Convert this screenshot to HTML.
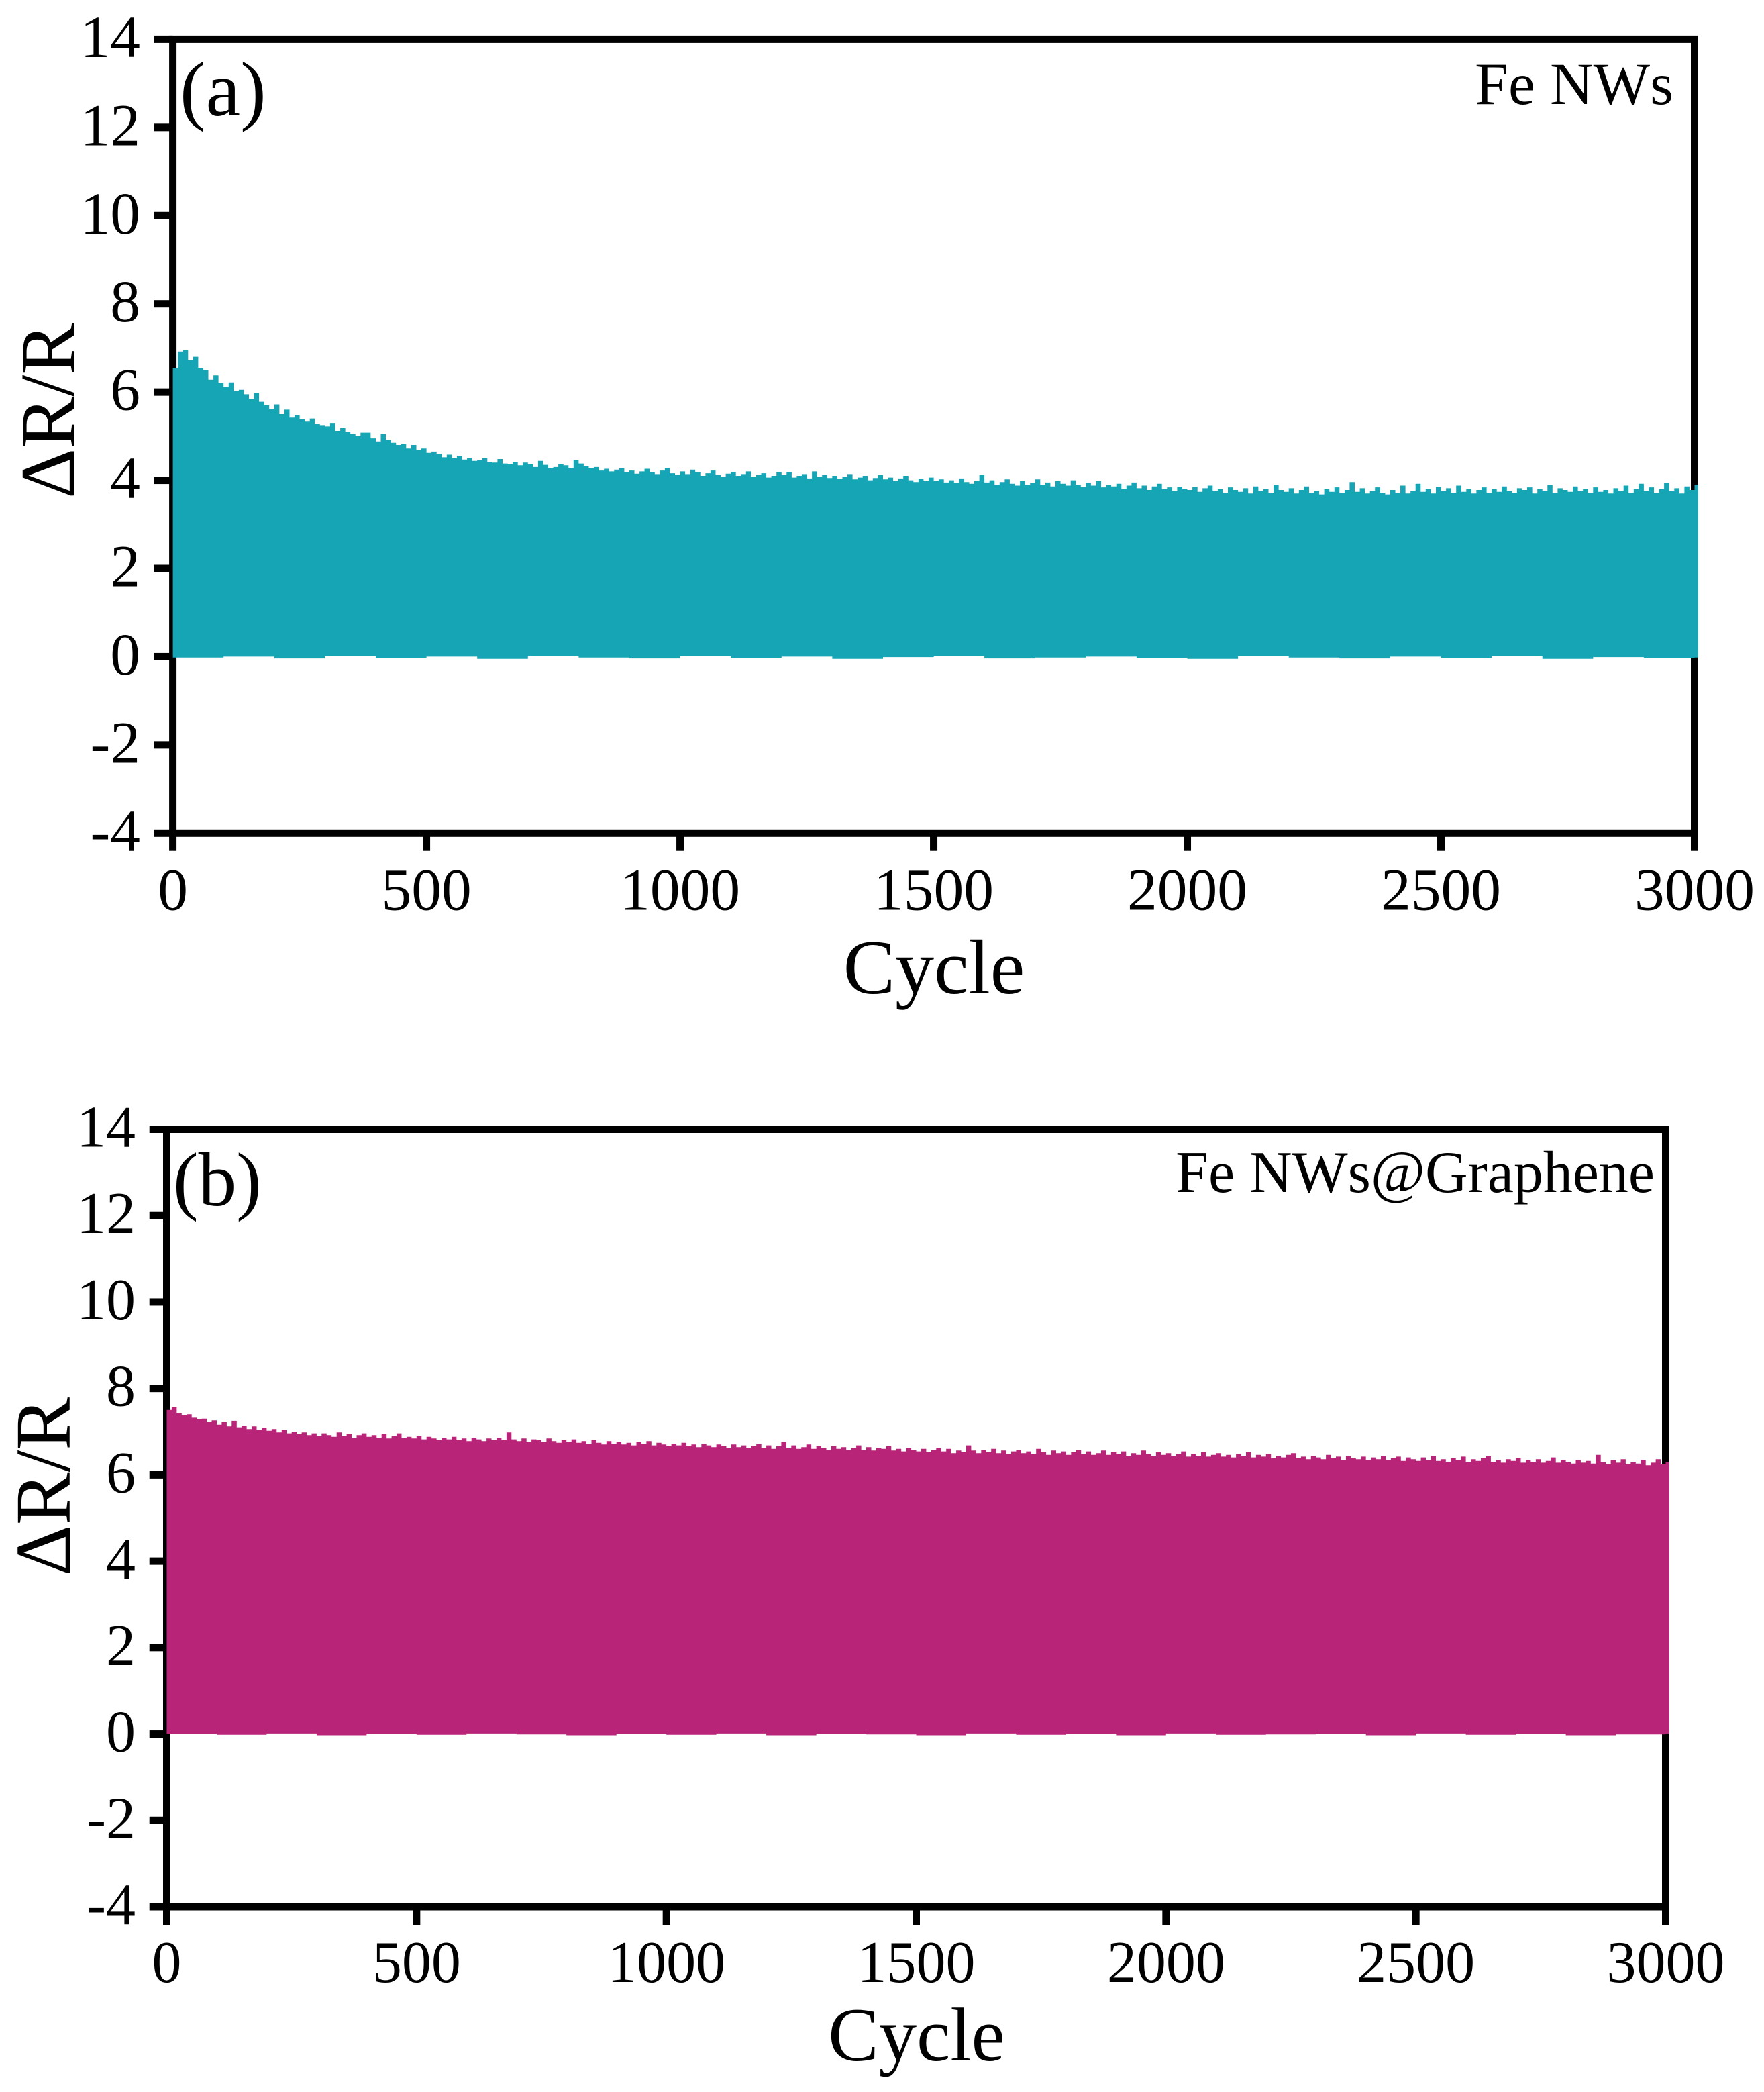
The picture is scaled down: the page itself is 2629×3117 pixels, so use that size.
<!DOCTYPE html>
<html lang="en">
<head>
<meta charset="utf-8">
<title>Fe NWs cycling response</title>
<style>
html,body{margin:0;padding:0;background:#fff;}
svg{display:block;}
text{font-family:"Liberation Serif","Times New Roman",serif;fill:#000;}
</style>
</head>
<body>
<svg id="figure" xmlns="http://www.w3.org/2000/svg" width="2629" height="3117" viewBox="0 0 2629 3117"></svg>
<script>
const xTickValues = [0, 500, 1000, 1500, 2000, 2500, 3000];
const yTickValues = [-4, -2, 0, 2, 4, 6, 8, 10, 12, 14];
const topSampleStep = 10;
const lowSampleStep = 100;
const lastSampleSpan = 7;

const feTops = [
6.55,6.92,6.95,6.72,6.80,6.55,6.50,6.28,6.38,6.20,
6.12,6.22,6.02,6.05,5.95,5.85,5.98,5.78,5.70,5.62,
5.72,5.50,5.60,5.42,5.48,5.38,5.33,5.40,5.28,5.25,
5.22,5.30,5.12,5.18,5.10,5.05,5.00,5.08,5.08,4.95,
4.88,5.05,4.92,4.85,4.80,4.82,4.72,4.80,4.68,4.72,
4.62,4.65,4.60,4.52,4.58,4.50,4.55,4.47,4.50,4.44,
4.46,4.50,4.42,4.40,4.48,4.38,4.36,4.42,4.34,4.40,
4.36,4.30,4.44,4.35,4.28,4.30,4.36,4.34,4.28,4.45,
4.38,4.32,4.28,4.30,4.22,4.26,4.20,4.24,4.28,4.18,
4.22,4.15,4.20,4.26,4.18,4.14,4.22,4.28,4.16,4.12,
4.20,4.14,4.24,4.18,4.10,4.16,4.22,4.12,4.08,4.15,
4.18,4.10,4.14,4.20,4.08,4.12,4.16,4.06,4.10,4.18,
4.12,4.18,4.06,4.10,4.14,4.04,4.20,4.08,4.12,4.05,
4.10,4.03,4.08,4.14,4.02,4.06,4.10,4.00,4.05,4.12,
4.02,4.06,3.98,4.04,4.10,4.00,3.96,4.03,3.98,4.06,
3.98,4.02,3.95,4.00,3.94,4.04,3.96,3.92,3.98,4.12,
3.95,4.00,3.90,3.96,4.02,3.92,3.88,3.98,3.90,3.94,
4.02,3.90,3.95,3.86,3.98,3.92,3.88,4.00,3.90,3.85,
3.94,3.88,3.98,3.84,3.90,3.86,3.92,3.80,3.88,3.95,
3.82,3.88,3.78,3.86,3.92,3.80,3.84,3.76,3.85,3.80,
3.78,3.85,3.74,3.82,3.88,3.76,3.80,3.72,3.84,3.78,
3.74,3.82,3.70,3.86,3.76,3.80,3.72,3.90,3.78,3.74,
3.82,3.70,3.78,3.86,3.72,3.76,3.68,3.80,3.74,3.84,
3.72,3.78,3.96,3.74,3.82,3.70,3.76,3.84,3.72,3.68,
3.78,3.72,3.88,3.70,3.76,3.92,3.74,3.80,3.70,3.85,
3.76,3.82,3.72,3.88,3.74,3.80,3.70,3.78,3.84,3.72,
3.80,3.74,3.86,3.76,3.72,3.82,3.78,3.84,3.70,3.80,
3.76,3.90,3.72,3.82,3.78,3.74,3.86,3.76,3.80,3.72,
3.84,3.74,3.78,3.70,3.82,3.76,3.88,3.72,3.80,3.92,
3.76,3.84,3.72,3.80,3.94,3.76,3.82,3.70,3.86,3.78,
3.90];

const feLows = [
-0.02,0.00,-0.04,0.01,-0.03,0.00,-0.05,0.02,-0.02,-0.04,
0.01,-0.03,0.00,-0.05,-0.01,0.01,-0.04,-0.02,0.00,-0.03,
-0.05,0.01,-0.02,-0.04,0.00,-0.03,0.01,-0.05,-0.01,-0.03,-0.02];

const grapheneTops = [
7.50,7.56,7.42,7.38,7.40,7.32,7.28,7.30,7.22,7.26,
7.16,7.22,7.12,7.25,7.10,7.14,7.06,7.12,7.04,7.08,
7.02,7.06,6.98,7.04,6.96,7.00,6.94,6.98,6.92,6.96,
6.90,6.96,6.92,6.88,6.98,6.90,6.94,6.86,6.92,6.96,
6.88,6.92,6.86,6.94,6.84,6.90,6.96,6.86,6.88,6.84,
6.90,6.82,6.88,6.84,6.80,6.86,6.82,6.88,6.80,6.84,
6.78,6.86,6.82,6.78,6.84,6.80,6.86,6.80,6.98,6.82,
6.78,6.84,6.76,6.82,6.80,6.76,6.84,6.78,6.74,6.80,
6.76,6.82,6.74,6.78,6.72,6.80,6.74,6.70,6.78,6.72,
6.76,6.70,6.74,6.68,6.76,6.72,6.78,6.68,6.74,6.70,
6.66,6.72,6.68,6.74,6.66,6.70,6.64,6.72,6.68,6.64,
6.70,6.66,6.62,6.70,6.64,6.68,6.62,6.66,6.72,6.62,
6.68,6.60,6.66,6.76,6.62,6.68,6.60,6.64,6.70,6.60,
6.66,6.62,6.58,6.66,6.60,6.64,6.58,6.62,6.68,6.58,
6.64,6.56,6.62,6.60,6.66,6.56,6.60,6.54,6.62,6.58,
6.54,6.60,6.52,6.58,6.62,6.54,6.60,6.50,6.56,6.52,
6.68,6.56,6.50,6.58,6.52,6.60,6.50,6.56,6.48,6.54,
6.58,6.50,6.54,6.48,6.60,6.52,6.46,6.56,6.50,6.54,
6.46,6.52,6.58,6.48,6.54,6.46,6.50,6.56,6.46,6.52,
6.48,6.54,6.44,6.50,6.46,6.56,6.48,6.44,6.52,6.46,
6.50,6.44,6.48,6.54,6.42,6.48,6.44,6.52,6.42,6.46,
6.50,6.42,6.46,6.40,6.48,6.44,6.52,6.40,6.46,6.42,
6.48,6.38,6.44,6.40,6.46,6.50,6.38,6.42,6.36,6.44,
6.40,6.36,6.46,6.38,6.42,6.34,6.44,6.38,6.36,6.42,
6.34,6.40,6.36,6.44,6.34,6.38,6.42,6.32,6.40,6.36,
6.32,6.40,6.34,6.44,6.32,6.36,6.30,6.38,6.34,6.42,
6.30,6.36,6.32,6.38,6.44,6.30,6.34,6.28,6.36,6.32,
6.38,6.28,6.34,6.30,6.36,6.28,6.32,6.40,6.28,6.34,
6.30,6.26,6.34,6.28,6.32,6.26,6.46,6.30,6.24,6.34,
6.28,6.36,6.24,6.30,6.26,6.34,6.22,6.28,6.36,6.24,
6.30];

const grapheneLows = [
0.00,-0.02,0.01,-0.03,0.00,-0.02,0.01,-0.01,-0.03,0.00,
-0.02,0.01,-0.03,0.00,-0.01,-0.03,0.01,-0.02,0.00,-0.03,
0.01,-0.02,-0.01,0.00,-0.03,0.01,-0.02,0.00,-0.03,-0.01,0.00];

const svgNS = 'http://www.w3.org/2000/svg';
const figure = document.getElementById('figure');

function makeLinearScale(d0, d1, r0, r1) {
  return function (v) { return r0 + (v - d0) * (r1 - r0) / (d1 - d0); };
}

function addNode(parent, tag, props) {
  const el = document.createElementNS(svgNS, tag);
  for (const key in props) el.setAttribute(key, props[key]);
  parent.appendChild(el);
  return el;
}

function addLabel(parent, str, props) {
  const el = addNode(parent, 'text', props);
  el.textContent = str;
  return el;
}

function drawPanel(cfg, tops, lows) {
  const group = addNode(figure, 'g', {});
  
  

  const x = makeLinearScale(0, 3000, cfg.left, cfg.right);
  const y = makeLinearScale(-4, 14, cfg.bottom, cfg.top);
  const sw = cfg.spine;

  const frame = addNode(group, 'rect', {x: cfg.left, y: cfg.top, width: cfg.right - cfg.left, height: cfg.bottom - cfg.top, fill: 'none', stroke: '#000', 'stroke-width': sw});
  
  

  yTickValues.forEach(function (v) {
    const tick = addNode(group, 'rect', {x: cfg.tickLeft, y: y(v) - sw / 2, width: cfg.left - cfg.tickLeft, height: sw, fill: '#000'});
    
    
    const label = addLabel(group, String(v), {x: cfg.yLabelRight, y: y(v) + cfg.yLabelDrop, 'font-size': cfg.tickFont, 'text-anchor': 'end'});
    
    
  });

  xTickValues.forEach(function (v) {
    const tick = addNode(group, 'rect', {x: x(v) - sw / 2, y: cfg.bottom, width: sw, height: cfg.tickBottom - cfg.bottom, fill: '#000'});
    
    
    const label = addLabel(group, String(v), {x: x(v), y: cfg.xLabelBase, 'font-size': cfg.tickFont, 'text-anchor': 'middle'});
    
    
  });

  let d = '';
  tops.forEach(function (v, i) {
    const c = i * topSampleStep;
    const span = i === tops.length - 1 ? lastSampleSpan : topSampleStep;
    d += (i === 0 ? 'M' : 'L') + x(c).toFixed(1) + ' ' + y(v).toFixed(1);
    d += 'L' + x(c + span).toFixed(1) + ' ' + y(v).toFixed(1);
  });
  for (let i = lows.length - 1; i >= 0; i--) {
    const c = i * lowSampleStep;
    const edge = i === lows.length - 1 ? c + lastSampleSpan : c + lowSampleStep;
    d += 'L' + x(edge).toFixed(1) + ' ' + y(lows[i]).toFixed(1);
    d += 'L' + x(c).toFixed(1) + ' ' + y(lows[i]).toFixed(1);
  }
  d += 'Z';
  const area = addNode(group, 'path', {d: d, fill: cfg.color});
  
  

  const yTitle = addLabel(group, '\u0394R/R', {transform: 'translate(' + cfg.yTitleX + ' ' + cfg.yTitleY + ') rotate(-90)', 'font-size': cfg.yTitleFont, 'text-anchor': 'middle'});
  
  

  const xTitle = addLabel(group, 'Cycle', {x: cfg.xTitleX, y: cfg.xTitleY, 'font-size': cfg.xTitleFont, 'text-anchor': 'middle'});
  
  

  const letter = addLabel(group, cfg.letter, {x: cfg.letterX, y: cfg.letterY, 'font-size': cfg.letterFont});
  
  

  const sample = addLabel(group, cfg.sample, {x: cfg.sampleX, y: cfg.sampleY, 'font-size': cfg.tickFont, 'text-anchor': 'end'});
  
  
}

drawPanel({
  panelName: 'panel-a-fe-nws', color: '#16A5B5', spine: 11,
  left: 257.6, right: 2525.5, top: 58.4, bottom: 1241.3,
  tickLeft: 230, tickBottom: 1267.7,
  tickFont: 89.5, yLabelRight: 209, yLabelDrop: 26.5, xLabelBase: 1355.5,
  yTitleFont: 116, xTitleFont: 116, yTitleX: 110, yTitleY: 612, xTitleX: 1392, xTitleY: 1480,
  letter: '(a)', letterX: 268, letterY: 172, letterFont: 116,
  sample: 'Fe NWs', sampleX: 2494, sampleY: 155
}, feTops, feLows);

drawPanel({
  panelName: 'panel-b-fe-nws-graphene', color: '#B82478', spine: 11,
  left: 248.5, right: 2482.5, top: 1682.5, bottom: 2841,
  tickLeft: 222.7, tickBottom: 2868,
  tickFont: 88, yLabelRight: 202, yLabelDrop: 26, xLabelBase: 2953,
  yTitleFont: 118, xTitleFont: 113, yTitleX: 104, yTitleY: 2215, xTitleX: 1366, xTitleY: 3070,
  letter: '(b)', letterX: 258, letterY: 1796, letterFont: 113,
  sample: 'Fe NWs@Graphene', sampleX: 2466, sampleY: 1776
}, grapheneTops, grapheneLows);
</script>
</body>
</html>
